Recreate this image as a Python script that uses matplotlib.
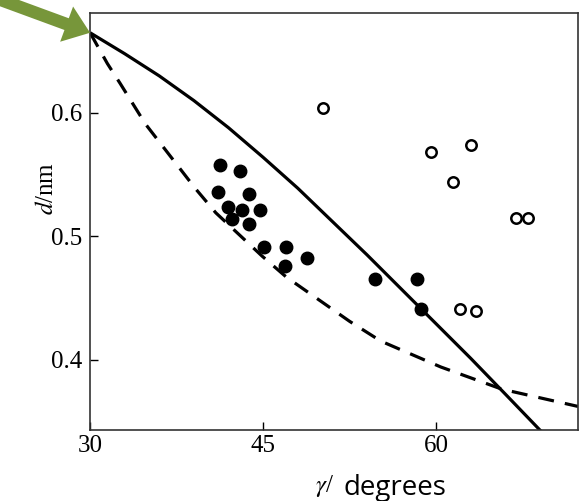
import matplotlib
matplotlib.use('Agg')
import matplotlib.pyplot as plt

# full line (theory)
solid_x = [30, 33, 36, 39, 42, 45, 48, 51, 54, 57, 60, 63, 66, 69.6]
solid_y = [0.665, 0.648, 0.630, 0.610, 0.588, 0.564, 0.539, 0.512, 0.485,
           0.457, 0.429, 0.401, 0.372, 0.337]

# dashed line
dash_x = [30, 31.5, 32.6, 34.8, 39.1, 40.9, 44.9, 47, 52.5, 55.2, 60.4, 65.7, 72.3]
dash_y = [0.665, 0.640, 0.624, 0.591, 0.539, 0.519, 0.484, 0.467, 0.431, 0.415, 0.394, 0.376, 0.362]

# filled points
filled_x = [41.3, 43.0, 41.1, 43.8, 42.0, 43.2, 44.7, 42.3, 43.8, 45.1, 47.0, 46.9, 48.8, 54.7, 58.3, 58.7]
filled_y = [0.558, 0.553, 0.536, 0.534, 0.524, 0.521, 0.521, 0.514, 0.510, 0.491, 0.491, 0.476, 0.482, 0.465, 0.465, 0.441]

# open points
open_x = [50.2, 59.6, 63.0, 61.5, 66.9, 68.0, 62.1, 63.5]
open_y = [0.604, 0.568, 0.574, 0.544, 0.515, 0.515, 0.441, 0.439]

xticks = [30, 45, 60]
yticks = [0.4, 0.5, 0.6]

fig = plt.figure(figsize=(5.85, 5.01), dpi=100)
ax = fig.add_axes([0.154, 0.142, 0.834, 0.832])

ax.plot(solid_x, solid_y, color='black', lw=2.3, solid_capstyle='butt')
ax.plot(dash_x, dash_y, color='black', lw=2.3, dashes=(5, 3.5))
ax.plot(filled_x, filled_y, 'o', color='black', ms=9)
ax.plot(open_x, open_y, 'o', mfc='white', mec='black', mew=1.8, ms=7.5)

ax.set_xlim(30, 72.3)
ax.set_ylim(0.343, 0.681)
ax.set_xticks(xticks)
ax.set_yticks(yticks)
ax.set_xticklabels([str(t) for t in xticks])
ax.set_yticklabels(['0.4', '0.5', '0.6'])
ax.tick_params(direction='in', length=6, width=1,
               labelsize=18, labelfontfamily='Liberation Serif')
ax.tick_params(axis='y', pad=6)
ax.tick_params(axis='x', pad=4)
for s in ax.spines.values():
    s.set_linewidth(1.2)
    s.set_color('#333333')

# axis titles
ax.text(-0.088, 0.58, r'$d$/nm', transform=ax.transAxes, rotation=90,
        ha='center', va='center', fontsize=18, family='Liberation Serif',
        math_fontfamily='stix')
ax.text(0.50, -0.135, r'$\gamma$/', transform=ax.transAxes, ha='right',
        va='center', fontsize=18, family='Liberation Serif', math_fontfamily='stix')
ax.text(0.52, -0.14, 'degrees', transform=ax.transAxes, ha='left',
        va='center', fontsize=20, family='Open Sans')

# green arrow pointing to the start of the curves
ax.annotate('', xy=(30, 0.665), xycoords='data',
            xytext=(-0.01, 1.005), textcoords='figure fraction',
            annotation_clip=False,
            arrowprops=dict(arrowstyle='simple,head_length=1.0,head_width=1.5,tail_width=0.5',
                            mutation_scale=18, color='#77963A', lw=0, shrinkA=0, shrinkB=0))

fig.savefig('out.png', dpi=100)
